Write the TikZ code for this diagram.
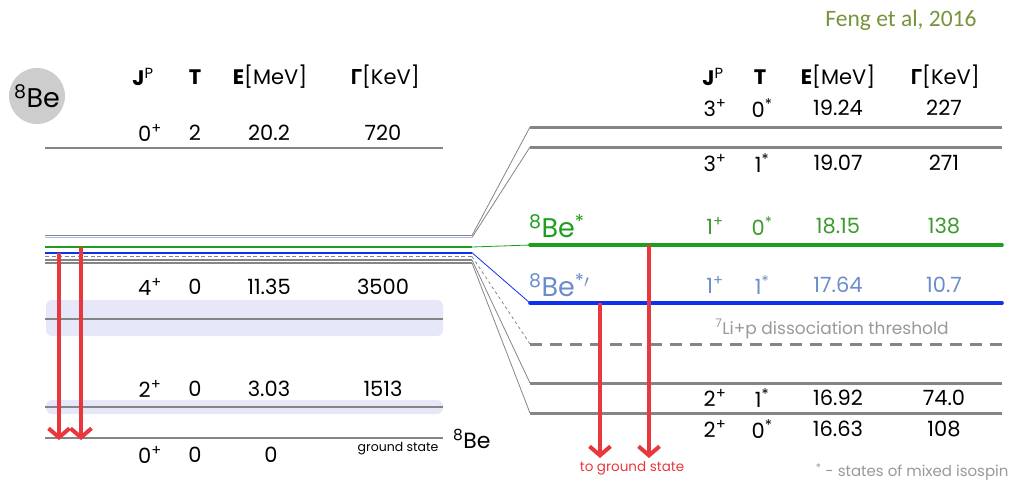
\documentclass[tikz,border=0pt]{standalone}
\usepackage{fontspec}
\setmainfont{Poppins}
\newfontfamily\calibri{Carlito}
\newfontfamily\greek{Open Sans}
\usetikzlibrary{arrows.meta,positioning}
\definecolor{Level}{HTML}{858585}
\definecolor{Soft}{HTML}{999999}
\definecolor{XGreen}{HTML}{1E9E1E}
\definecolor{GreenText}{HTML}{3C9A2E}
\definecolor{XBlue}{HTML}{1030F0}
\definecolor{BlueText}{HTML}{6A8CCB}
\definecolor{Decay}{HTML}{E8383D}
\definecolor{Band}{HTML}{E6E8FA}
\definecolor{Olive}{HTML}{77933C}
\definecolor{Disc}{HTML}{CDCDCD}
\tikzset{
  level/.style={draw=Level,line width=1.8pt},
  softblue/.style={draw=XBlue!35,line width=1.2pt},
  greenlevel/.style={draw=XGreen,line width=1.6pt},
  bluelevel/.style={draw=XBlue,line width=1.8pt},
  dashlevel/.style={draw=Level,line width=1.2pt,dash pattern=on 4pt off 2.5pt},
  biglevel/.style={draw=Level,line width=3pt},
  greenbig/.style={draw=XGreen,line width=3.6pt,line cap=round},
  bluebig/.style={draw=XBlue,line width=3.6pt,line cap=round},
  dashbig/.style={draw=Level,line width=3pt,dash pattern=on 12pt off 8pt},
  link/.style={draw=Level,line width=0.8pt},
  dashlink/.style={link,dashed},
  greenlink/.style={draw=XGreen,line width=0.8pt},
  bluelink/.style={draw=XBlue,line width=0.8pt},
  decay/.style={draw=Decay,line width=4pt,-{Straight Barb[length=9pt,width=21pt]}},
  cell/.style={font=\fontsize{21}{23}\selectfont,inner sep=0pt},
  band/.style={fill=Band,rounded corners=6pt}
}
\begin{document}
\begin{tikzpicture}[x=1pt,y=-1pt]
  \useasboundingbox (0,0) rectangle (1014,483);
  \node[font=\calibri\fontsize{23.5}{26}\selectfont,text=Olive] (cite) at (901,20) {Feng et al, 2016};
  \node[circle,fill=Disc,minimum size=56pt,inner sep=0pt,font=\fontsize{27}{29}\selectfont] (nuc) at (37,96) {\textsuperscript{8}Be};

  % broad states
  \fill[band] (46,300) rectangle (443,336);
  \fill[band] (46,400) rectangle (443,414);
  \draw[level] (45,148) -- (443,148);
  \draw[level] (45,319) -- (443,319);
  \draw[level] (45,407) -- (443,407);
  \draw[level] (45,438) -- (443,438);

  % 17-19 MeV group, left and right
  \foreach \y/\s/\n in {235.5/level/lv1, 237.4/softblue/lv2, 247/greenlevel/lv3, 252.7/bluelevel/lv4,
      256.5/dashlevel/lv5, 260/level/lv6, 263/level/lv7}
    \draw[\s] (45,\y) -- (472,\y) coordinate (\n);
  \foreach \y/\s/\n in {127/biglevel/rv1, 147/biglevel/rv2, 245/greenbig/rv3, 303/bluebig/rv4,
      344/dashbig/rv5, 383/biglevel/rv6, 413/biglevel/rv7}
    \draw[\s] (530,\y) coordinate (\n) -- (1002,\y);
  \foreach \a/\b/\s in {lv1/rv1/link, lv2/rv2/link, lv3/rv3/greenlink, lv4/rv4/bluelink,
      lv5/rv5/dashlink, lv6/rv6/link, lv7/rv7/link}
    \draw[\s] (\a) -- (\b);

  % headers
  \foreach \x/\side in {143/l,713/r}{
    \node[cell] (\side hj) at (\x,77) {\textbf{J}\textsuperscript{P}};
  }
  \node[cell] (lht) at (195,77) {\textbf{T}};
  \node[cell] (lhe) at (270,77) {\textbf{E}[MeV]};
  \node[cell] (lhg) at (385,77) {{\greek\bfseries Γ}[KeV]};
  \node[cell] (rht) at (760,77) {\textbf{T}};
  \node[cell] (rhe) at (838,77) {\textbf{E}[MeV]};
  \node[cell] (rhg) at (945,77) {{\greek\bfseries Γ}[KeV]};

  % left table
  \foreach \y/\spin/\iso/\en/\gam [count=\i] in {133/0/2/20.2/720, 287/4/0/11.35/3500, 389/2/0/3.03/1513}{
    \node[cell] (lj\i) at (150,\y) {\spin\textsuperscript{+}};
    \node[cell] (lt\i) at (195,\y) {\iso};
    \node[cell] (le\i) at (269,\y) {\en};
    \node[cell] (lg\i) at (383,\y) {\gam};
  }
  \node[cell] (lj0) at (150,455) {0\textsuperscript{+}};
  \node[cell] (lt0) at (195,455) {0};
  \node[cell] (le0) at (271,455) {0};
  \node[font=\fontsize{12.5}{14}\selectfont,anchor=east] (gs) at (442,449) {ground state};
  \node[font=\fontsize{22}{24}\selectfont,anchor=west,inner sep=0pt] (gsbe) at (453,439) {\textsuperscript{8}Be};

  % right table
  \foreach \y/\spin/\iso/\en/\gam/\col [count=\i] in {108/3/0/19.24/227/black, 163/3/1/19.07/271/black,
      226/1/0/18.15/138/GreenText, 285/1/1/17.64/10.7/BlueText, 398/2/1/16.92/74.0/black, 429/2/0/16.63/108/black}{
    \node[cell,text=\col] (rj\i) at (715,\y) {\spin\textsuperscript{+}};
    \node[cell,text=\col] (rt\i) at (762,\y) {\iso\textsuperscript{*}};
    \node[cell,text=\col] (re\i) at (838,\y) {\en};
    \node[cell,text=\col] (rg\i) at (944,\y) {\gam};
  }
  \node[font=\fontsize{27}{29}\selectfont,text=XGreen,anchor=west,inner sep=0pt] (bex) at (529,226) {\textsuperscript{8}Be\textsuperscript{*}};
  \node[font=\fontsize{27}{29}\selectfont,text=BlueText,anchor=west,inner sep=0pt] (bexx) at (529,285) {\textsuperscript{8}Be\textsuperscript{*$\prime$}};
  \node[font=\fontsize{17}{19}\selectfont,text=Soft] (thr) at (832,329) {\textsuperscript{7}Li+p dissociation threshold};
  \node[font=\fontsize{15}{17}\selectfont,text=Soft,anchor=east] (iso) at (1012,472) {\textsuperscript{*} - states of mixed isospin};

  % gamma decays of the two 1+ states
  \coordinate (s1) at (59,252.7);  \coordinate (t1) at (59,440);
  \coordinate (s2) at (81,247);    \coordinate (t2) at (81,440);
  \coordinate (s3) at (600,303);   \coordinate (t3) at (600,458);
  \coordinate (s4) at (649,245);   \coordinate (t4) at (649,458);
  \foreach \a/\b in {s1/t1,s2/t2,s3/t3,s4/t4}
    \draw[decay] (\a) -- (\b);
  \node[font=\fontsize{13.5}{15}\selectfont,text=Decay] (tgs) at (632,468) {to ground state};
\end{tikzpicture}
\end{document}
